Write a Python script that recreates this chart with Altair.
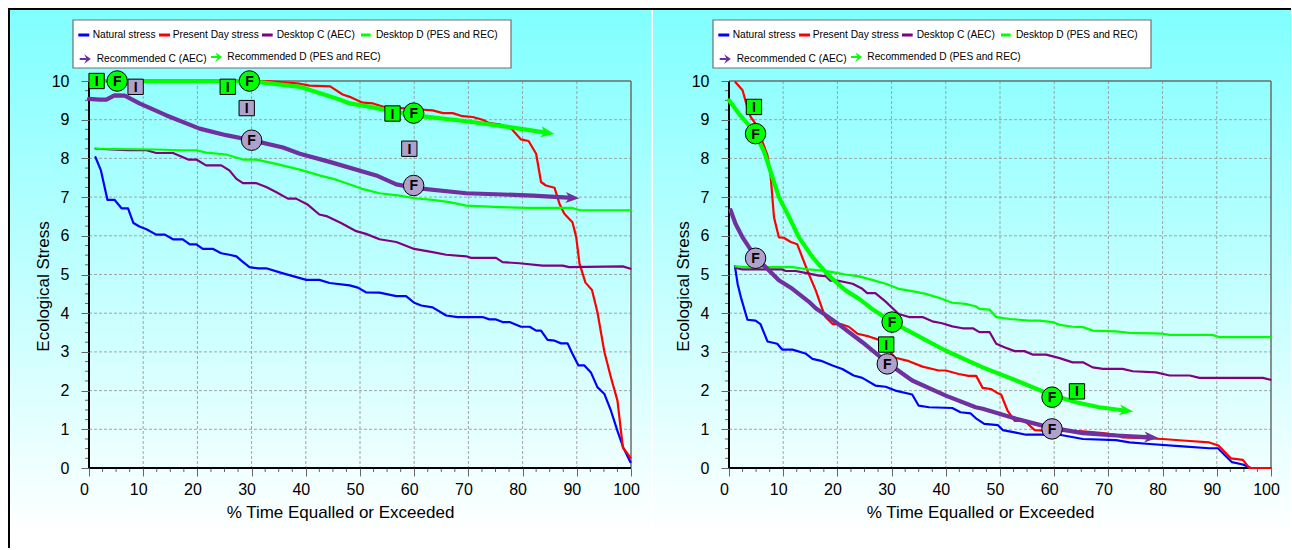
import altair as alt
import numpy as np
import pandas as pd

# ---------------------------------------------------------------------------
# Series names, colours and line widths
# ---------------------------------------------------------------------------
SERIES = ["Natural stress", "Present Day stress", "Desktop C (AEC)",
          "Desktop D (PES and REC)", "Recommended C (AEC)",
          "Recommended D (PES and REC)"]
COLORS = ["#0000ff", "#ff0000", "#800080", "#00ff00", "#7030a0", "#00ff00"]
WIDTHS = [2.2, 2.2, 2.2, 2.2, 4.2, 4.2]

# ---------------------------------------------------------------------------
# Left panel: x = % time equalled or exceeded, y = ecological stress
# ---------------------------------------------------------------------------
L_NATURAL_X = [1.2, 2.2, 3.4, 4.7, 6.0, 7.2, 8.2, 9.3, 10.6, 12.4, 14.0, 15.5, 17.3, 18.6, 19.8,
               21.0, 22.9, 24.4, 25.9, 27.2, 28.1, 29.6, 31.2, 32.7, 35.8, 40.1, 42.5, 44.4, 48.1,
               49.6, 51.1, 53.6, 56.7, 58.5, 60.0, 61.3, 63.4, 65.9, 68.0, 72.6, 73.9, 75.1, 76.3,
               77.6, 79.7, 81.3, 82.5, 83.4, 84.6, 85.9, 87.1, 88.3, 89.2, 90.3, 91.4, 92.6, 93.8,
               95.1, 96.3, 97.5, 98.6, 99.9]
L_NATURAL_Y = [8.03, 7.69, 6.93, 6.93, 6.71, 6.71, 6.33, 6.24, 6.17, 6.03, 6.03, 5.91, 5.91, 5.78,
               5.78, 5.66, 5.66, 5.55, 5.51, 5.47, 5.36, 5.19, 5.16, 5.16, 5.03, 4.86, 4.86, 4.78,
               4.72, 4.66, 4.54, 4.53, 4.44, 4.44, 4.27, 4.20, 4.15, 3.94, 3.90, 3.90, 3.84, 3.84,
               3.77, 3.77, 3.65, 3.65, 3.55, 3.55, 3.31, 3.29, 3.22, 3.22, 2.95, 2.65, 2.65, 2.47,
               2.09, 1.91, 1.48, 0.96, 0.52, 0.15]

L_PRESENT_X = [1.5, 33.0, 38.9, 40.7, 44.5, 46.8, 48.1, 50.5, 52.4, 54.5, 57.5, 60.5, 63.4, 65.3,
               67.1, 68.9, 70.8, 72.6, 73.9, 75.7, 77.9, 79.7, 81.1, 82.5, 83.4, 84.3, 85.9, 86.8,
               87.7, 89.2, 89.9, 90.5, 91.6, 92.8, 93.8, 95.1, 96.3, 97.5, 98.5, 99.9]
L_PRESENT_Y = [10.0, 10.0, 9.93, 9.88, 9.86, 9.65, 9.59, 9.44, 9.42, 9.33, 9.30, 9.27, 9.24, 9.17,
               9.17, 9.09, 9.07, 9.00, 8.91, 8.88, 8.77, 8.49, 8.45, 8.12, 7.39, 7.30, 7.24, 6.83,
               6.57, 6.35, 5.96, 5.28, 4.79, 4.60, 4.03, 2.99, 2.34, 1.74, 0.53, 0.27]

L_DESK_C_X = [1.2, 7.2, 10.6, 12.4, 15.5, 18.3, 19.8, 21.6, 24.4, 25.9, 27.2, 28.4, 30.9, 32.7,
              34.5, 36.7, 38.2, 40.4, 42.5, 43.8, 46.5, 49.3, 51.1, 53.6, 56.7, 60.0, 63.4, 65.9,
              69.6, 70.5, 75.1, 76.3, 79.4, 83.7, 87.4, 88.6, 98.5, 99.9]
L_DESK_C_Y = [8.25, 8.21, 8.21, 8.14, 8.14, 7.97, 7.97, 7.82, 7.82, 7.69, 7.47, 7.36, 7.36, 7.26,
              7.13, 6.96, 6.96, 6.80, 6.55, 6.51, 6.33, 6.12, 6.05, 5.91, 5.84, 5.66, 5.58, 5.51,
              5.47, 5.43, 5.43, 5.32, 5.29, 5.23, 5.23, 5.19, 5.21, 5.15]

L_DESK_D_X = [1.2, 12.4, 16.7, 19.8, 21.6, 25.3, 28.4, 30.9, 34.5, 38.9, 42.5, 45.6, 48.7, 50.2,
              53.6, 57.3, 60.0, 63.4, 66.5, 69.6, 75.7, 80.6, 89.2, 90.5, 99.9]
L_DESK_D_Y = [8.25, 8.23, 8.21, 8.21, 8.15, 8.10, 7.97, 7.97, 7.86, 7.71, 7.56, 7.45, 7.30, 7.22,
              7.10, 7.04, 6.97, 6.93, 6.87, 6.78, 6.74, 6.72, 6.72, 6.66, 6.66]

L_REC_C_X = [0.0, 2.0, 3.2, 4.7, 6.6, 9.3, 14.3, 20.4, 25.3, 30.0, 35.8, 38.9, 44.4, 53.0, 56.7,
             60.0, 69.6, 81.9, 89.2]
L_REC_C_Y = [9.54, 9.52, 9.52, 9.63, 9.62, 9.42, 9.11, 8.77, 8.60, 8.47, 8.28, 8.12, 7.91, 7.56,
             7.33, 7.24, 7.10, 7.04, 6.98]

L_REC_D_X = [1.4, 30.0, 31.5, 38.9, 42.5, 46.2, 48.1, 51.1, 54.5, 60.0, 69.6, 77.6, 84.6]
L_REC_D_Y = [10.0, 10.0, 9.97, 9.85, 9.69, 9.52, 9.42, 9.35, 9.26, 9.11, 8.96, 8.81, 8.66]

# Initial (I) and final (F) points; set C = AEC (lavender), set D = PES/REC (green)
L_MARK_X = [1.4, 25.6, 56.0, 5.2, 29.6, 59.9, 8.6, 29.1, 59.1, 30.0, 59.9]
L_MARK_Y = [10.0, 9.85, 9.16, 10.0, 10.0, 9.17, 9.85, 9.30, 8.25, 8.47, 7.30]
L_MARK_KIND = ["I", "I", "I", "F", "F", "F", "I", "I", "I", "F", "F"]
L_MARK_SET = ["D", "D", "D", "D", "D", "D", "C", "C", "C", "C", "C"]

# ---------------------------------------------------------------------------
# Right panel
# ---------------------------------------------------------------------------
R_NATURAL_X = [1.1, 1.6, 2.2, 3.4, 4.9, 5.8, 7.1, 8.9, 9.8, 11.7, 14.1, 15.4, 17.2, 19.1, 20.9,
               23.0, 24.6, 27.0, 28.9, 30.7, 33.8, 35.0, 36.9, 41.2, 42.7, 44.6, 45.5, 47.1, 49.6,
               50.5, 52.7, 54.8, 61.0, 65.3, 71.4, 73.9, 77.6, 83.7, 88.6, 90.2, 92.8, 94.8, 96.3,
               99.9]
R_NATURAL_Y = [5.21, 4.75, 4.41, 3.83, 3.81, 3.72, 3.27, 3.21, 3.06, 3.06, 2.96, 2.82, 2.76, 2.65,
               2.56, 2.39, 2.33, 2.13, 2.10, 2.00, 1.90, 1.61, 1.57, 1.55, 1.44, 1.41, 1.29, 1.14,
               1.11, 0.98, 0.92, 0.86, 0.86, 0.75, 0.72, 0.66, 0.62, 0.56, 0.51, 0.51, 0.15, 0.09,
               0.00, 0.00]

R_PRESENT_X = [1.2, 2.5, 3.1, 4.0, 4.9, 6.2, 7.1, 7.7, 8.3, 9.2, 10.1, 11.4, 12.6, 13.5, 14.7,
               16.0, 17.2, 17.8, 19.1, 20.6, 22.1, 23.7, 25.8, 27.7, 30.7, 33.2, 35.7, 38.7, 40.0,
               42.4, 44.2, 45.6, 46.8, 48.4, 49.6, 50.2, 51.4, 52.7, 54.5, 56.4, 58.5, 65.3, 69.0,
               71.4, 72.6, 80.0, 83.7, 88.6, 90.3, 92.6, 94.8, 96.0, 100.0]
R_PRESENT_Y = [9.97, 9.76, 9.46, 9.07, 8.90, 8.42, 8.08, 7.52, 6.48, 5.96, 5.95, 5.84, 5.78, 5.45,
               5.02, 4.59, 4.11, 3.90, 3.72, 3.72, 3.65, 3.47, 3.40, 3.31, 2.85, 2.76, 2.62, 2.52,
               2.52, 2.43, 2.38, 2.38, 2.07, 2.04, 1.93, 1.90, 1.48, 1.22, 1.22, 0.98, 0.96, 0.95,
               0.90, 0.86, 0.79, 0.75, 0.71, 0.66, 0.58, 0.25, 0.21, 0.00, 0.00]

R_DESK_C_X = [1.2, 2.5, 9.8, 10.5, 12.3, 14.1, 16.6, 17.8, 18.7, 20.0, 21.5, 22.8, 24.6, 25.5,
              27.0, 28.9, 31.3, 33.2, 35.7, 37.5, 39.3, 41.2, 43.1, 45.0, 46.2, 48.1, 49.3, 50.8,
              52.7, 54.5, 56.0, 58.5, 61.0, 63.4, 65.3, 67.1, 69.0, 72.6, 74.5, 78.8, 81.3, 85.0,
              86.8, 98.5, 99.9]
R_DESK_C_Y = [5.17, 5.13, 5.13, 5.09, 5.09, 5.04, 4.97, 4.96, 4.84, 4.84, 4.80, 4.76, 4.63, 4.52,
              4.52, 4.30, 3.98, 3.90, 3.90, 3.79, 3.74, 3.66, 3.61, 3.61, 3.51, 3.51, 3.21, 3.12,
              3.02, 3.02, 2.93, 2.93, 2.84, 2.73, 2.73, 2.60, 2.56, 2.56, 2.50, 2.47, 2.39, 2.39,
              2.33, 2.33, 2.28]

R_DESK_D_X = [1.2, 3.1, 11.7, 14.7, 17.2, 19.1, 21.5, 24.0, 26.4, 28.9, 31.3, 33.8, 36.3, 38.7,
              41.2, 43.6, 45.5, 46.2, 48.1, 49.3, 51.8, 55.4, 57.3, 59.7, 61.0, 63.4, 65.3, 67.1,
              71.4, 73.9, 80.0, 81.3, 89.2, 90.5, 99.9]
R_DESK_D_Y = [5.21, 5.19, 5.19, 5.13, 5.10, 5.06, 5.00, 4.95, 4.86, 4.76, 4.63, 4.57, 4.50, 4.40,
              4.27, 4.24, 4.18, 4.11, 4.09, 3.90, 3.85, 3.81, 3.81, 3.77, 3.70, 3.65, 3.64, 3.55,
              3.53, 3.49, 3.47, 3.44, 3.44, 3.38, 3.38]

R_REC_C_X = [0.3, 1.2, 2.5, 4.9, 8.0, 9.2, 11.7, 14.7, 16.0, 19.7, 24.6, 29.2, 33.8, 40.0, 45.5,
             46.8, 53.0, 59.1, 65.3, 71.4, 77.9]
R_REC_C_Y = [6.66, 6.31, 5.96, 5.45, 5.02, 4.85, 4.63, 4.30, 4.13, 3.77, 3.25, 2.72, 2.26, 1.87,
             1.57, 1.53, 1.27, 1.05, 0.90, 0.84, 0.79]

R_REC_D_X = [0.0, 1.8, 3.7, 4.9, 6.5, 8.0, 9.2, 11.1, 12.9, 15.4, 18.4, 21.5, 24.0, 26.4, 30.1,
             33.8, 40.0, 46.8, 53.0, 59.1, 64.0, 68.3, 73.3]
R_REC_D_Y = [9.50, 9.16, 8.85, 8.64, 8.16, 7.52, 7.00, 6.48, 5.96, 5.45, 4.97, 4.59, 4.37, 4.11,
             3.77, 3.49, 3.03, 2.60, 2.26, 1.91, 1.70, 1.57, 1.48]

R_MARK_X = [4.6, 29.0, 64.2, 4.9, 30.1, 59.6, 4.9, 29.2, 59.6]
R_MARK_Y = [9.33, 3.19, 1.98, 8.64, 3.77, 1.83, 5.42, 2.69, 1.01]
R_MARK_KIND = ["I", "I", "I", "F", "F", "F", "F", "F", "F"]
R_MARK_SET = ["D", "D", "D", "D", "D", "D", "C", "C", "C"]

LEFT_SERIES = dict(zip(SERIES, [(L_NATURAL_X, L_NATURAL_Y), (L_PRESENT_X, L_PRESENT_Y),
                                (L_DESK_C_X, L_DESK_C_Y), (L_DESK_D_X, L_DESK_D_Y),
                                (L_REC_C_X, L_REC_C_Y), (L_REC_D_X, L_REC_D_Y)]))
RIGHT_SERIES = dict(zip(SERIES, [(R_NATURAL_X, R_NATURAL_Y), (R_PRESENT_X, R_PRESENT_Y),
                                 (R_DESK_C_X, R_DESK_C_Y), (R_DESK_D_X, R_DESK_D_Y),
                                 (R_REC_C_X, R_REC_C_Y), (R_REC_D_X, R_REC_D_Y)]))

# ---------------------------------------------------------------------------
# Styling
# ---------------------------------------------------------------------------
W, H = 542, 387
FONT = "Liberation Sans, Arial, sans-serif"
LEGEND_FONT_SIZE = 10.2
GREEN_FILL = "#00ff00"
LAVENDER = "#b0a0cc"
STEALTH = "M1,0L-1,-0.8L-0.45,0L-1,0.8Z"
LEGEND_ARROW = "M-1,-0.2L0.15,-0.2L-0.2,-0.85L1,0L-0.2,0.85L0.15,0.2L-1,0.2Z"
GRADIENT = alt.Gradient(
    gradient="linear",
    stops=[alt.GradientStop(color="#80ffff", offset=0),
           alt.GradientStop(color="#ffffff", offset=1)],
    x1=0, x2=0, y1=0, y2=1,
)

X_SCALE = alt.Scale(domain=[0, 100], nice=False, zero=False)
Y_SCALE = alt.Scale(domain=[0, 10], nice=False, zero=False)

X_AXIS = alt.Axis(
    title="% Time Equalled or Exceeded", values=list(range(0, 101, 10)), format="d",
    grid=False, domain=False, tickSize=8, tickColor="#666666", tickWidth=1,
    labelFont=FONT, labelFontSize=16, labelColor="#000000", labelPadding=5, labelOffset=-5,
    labelFlush=False, labelOverlap=False,
    titleFont=FONT, titleFontSize=17, titleFontWeight="normal", titleColor="#000000",
    titleX=251, titleY=44, titleAlign="center", titleBaseline="middle", zindex=1,
)
Y_AXIS = alt.Axis(
    title="Ecological Stress", values=list(range(0, 11)), format="d",
    grid=False, domain=False, tickSize=8, tickColor="#666666", tickWidth=1,
    labelFont=FONT, labelFontSize=16, labelColor="#000000", labelPadding=12,
    labelOverlap=False,
    titleFont=FONT, titleFontSize=17, titleFontWeight="normal", titleColor="#000000",
    titleX=-46, titleY=205, titleAlign="center", titleBaseline="middle", zindex=1,
)


def ex(field="x"):
    return alt.X(f"{field}:Q", scale=X_SCALE, axis=X_AXIS)


def ey(field="y"):
    return alt.Y(f"{field}:Q", scale=Y_SCALE, axis=Y_AXIS)


def px(field):
    return alt.X(f"{field}:Q", scale=None, axis=None)


def py(field):
    return alt.Y(f"{field}:Q", scale=None, axis=None)


def heading(xs, ys):
    """Screen-space direction (degrees, clockwise) of a series' last segment."""
    dx = (xs[-1] - xs[-2]) * W / 100.0
    dy = -(ys[-1] - ys[-2]) * H / 10.0
    return float(np.degrees(np.arctan2(dy, dx)) % 360)


ONE = pd.DataFrame({"k": [0]})


def panel(series, mx, my, mkind, mset, bg_left, outer_frame):
    layers = []

    # panel background
    layers.append(alt.Chart(ONE).mark_rect(fill=GRADIENT).encode(
        x=alt.value(bg_left), x2=alt.value(562), y=alt.value(-71), y2=alt.value(452)))
    if outer_frame:
        layers.append(alt.Chart(ONE).mark_rect(fill="#000000").encode(
            x=alt.value(-81), x2=alt.value(1202), y=alt.value(-73), y2=alt.value(-71)))
        layers.append(alt.Chart(ONE).mark_rect(fill="#000000").encode(
            x=alt.value(-81), x2=alt.value(-79), y=alt.value(-73), y2=alt.value(467)))

    # dashed grid
    grid_style = dict(color="#9a9a9a", strokeDash=[3, 2], strokeWidth=0.9)
    layers.append(alt.Chart(pd.DataFrame({"x": list(range(10, 100, 10))}))
                  .mark_rule(**grid_style).encode(x=ex(), y=alt.value(0), y2=alt.value(H)))
    layers.append(alt.Chart(pd.DataFrame({"y": list(range(1, 10))}))
                  .mark_rule(**grid_style).encode(y=ey(), x=alt.value(0), x2=alt.value(W)))

    # minor ticks
    minor_x = [float(v) for v in np.arange(0, 100.01, 2.5) if v % 10]
    minor_y = [float(v) for v in np.arange(0, 10.001, 0.25) if v % 1]
    layers.append(alt.Chart(pd.DataFrame({"x": minor_x})).mark_rule(color="#666666", strokeWidth=1)
                  .encode(x=ex(), y=alt.value(H), y2=alt.value(H + 4)))
    layers.append(alt.Chart(pd.DataFrame({"y": minor_y})).mark_rule(color="#666666", strokeWidth=1)
                  .encode(y=ey(), x=alt.value(-4), x2=alt.value(0)))

    # plot frame
    layers.append(alt.Chart(ONE).mark_rule(color="#6b6b6b", strokeWidth=1.5).encode(
        x=alt.value(0), x2=alt.value(W), y=alt.value(0)))
    layers.append(alt.Chart(ONE).mark_rule(color="#6b6b6b", strokeWidth=1.5).encode(
        x=alt.value(W), y=alt.value(0), y2=alt.value(H)))
    layers.append(alt.Chart(ONE).mark_rule(color="#000000", strokeWidth=2).encode(
        x=alt.value(0), x2=alt.value(W), y=alt.value(H)))
    layers.append(alt.Chart(ONE).mark_rule(color="#000000", strokeWidth=2).encode(
        x=alt.value(0), y=alt.value(0), y2=alt.value(H)))

    # series lines
    for name, color, width in zip(SERIES, COLORS, WIDTHS):
        xs, ys = series[name]
        df = pd.DataFrame({"x": xs, "y": ys})
        layers.append(alt.Chart(df).mark_line(color=color, strokeWidth=width,
                                              strokeJoin="round", strokeCap="round")
                      .encode(x=ex(), y=ey()))

    # arrow heads on the recommended curves
    heads = []
    for name, color in zip(SERIES[4:], COLORS[4:]):
        xs, ys = series[name]
        heads.append({"x": xs[-1], "y": ys[-1], "ang": heading(xs, ys), "col": color})
    layers.append(alt.Chart(pd.DataFrame(heads))
                  .mark_point(shape=STEALTH, filled=True, size=190, opacity=1, strokeWidth=0)
                  .encode(x=ex(), y=ey(), angle=alt.Angle("ang:Q", scale=None),
                          fill=alt.Fill("col:N", scale=None)))

    # I / F markers
    mk = pd.DataFrame({"x": mx, "y": my, "kind": mkind, "set": mset})
    fill = alt.Fill("set:N", scale=alt.Scale(domain=["C", "D"], range=[LAVENDER, GREEN_FILL]),
                    legend=None)
    layers.append(alt.Chart(mk).transform_filter(alt.datum.kind == "I")
                  .mark_point(shape="square", filled=True, size=235, stroke="#000000",
                              strokeWidth=1, opacity=1)
                  .encode(x=ex(), y=ey(), fill=fill))
    layers.append(alt.Chart(mk).transform_filter(alt.datum.kind == "F")
                  .mark_point(shape="circle", filled=True, size=420, stroke="#000000",
                              strokeWidth=1, opacity=1)
                  .encode(x=ex(), y=ey(), fill=fill))
    layers.append(alt.Chart(mk).mark_text(font=FONT, fontSize=14, fontWeight="bold",
                                          color="#000000", dy=1)
                  .encode(x=ex(), y=ey(), text="kind:N"))

    # legend box
    layers.append(alt.Chart(ONE).mark_rect(fill="#ffffff", stroke="#707070", strokeWidth=1.2)
                  .encode(x=alt.value(-16), x2=alt.value(422), y=alt.value(-61), y2=alt.value(-13)))
    swatches = pd.DataFrame({"a": [-10.7, 70, 173, 272], "b": [0.3, 81, 183.7, 281.7],
                             "c": [-46] * 4, "col": COLORS[:4]})
    layers.append(alt.Chart(swatches).mark_rule(strokeWidth=3)
                  .encode(x=px("a"), x2="b:Q", y=py("c"), color=alt.Color("col:N", scale=None)))
    arrows = pd.DataFrame({"a": [-3.7, 127.5], "c": [-22, -24], "col": COLORS[4:]})
    layers.append(alt.Chart(arrows).mark_point(shape=LEGEND_ARROW, filled=True, size=125,
                                               opacity=1, strokeWidth=0)
                  .encode(x=px("a"), y=py("c"), fill=alt.Fill("col:N", scale=None)))
    labels = pd.DataFrame({"a": [3.7, 83.7, 187.7, 287.0, 7.7, 138.3],
                           "c": [-46, -46, -46, -46, -21.7, -24.3], "label": SERIES})
    layers.append(alt.Chart(labels).mark_text(align="left", baseline="middle", font=FONT,
                                              fontSize=LEGEND_FONT_SIZE, color="#000000")
                  .encode(x=px("a"), y=py("c"), text="label:N"))

    return alt.layer(*layers).properties(width=W, height=H)


left = panel(LEFT_SERIES, L_MARK_X, L_MARK_Y, L_MARK_KIND, L_MARK_SET, -79, True)
right = panel(RIGHT_SERIES, R_MARK_X, R_MARK_Y, R_MARK_KIND, R_MARK_SET, -76, False)

chart = (
    alt.hconcat(left, right, spacing=98, bounds="flush")
    .properties(padding={"left": 8, "top": 8, "right": 0, "bottom": 0})
    .configure_view(stroke=None)
)

chart.save("out.html", embed_options={"renderer": "svg", "actions": False})
